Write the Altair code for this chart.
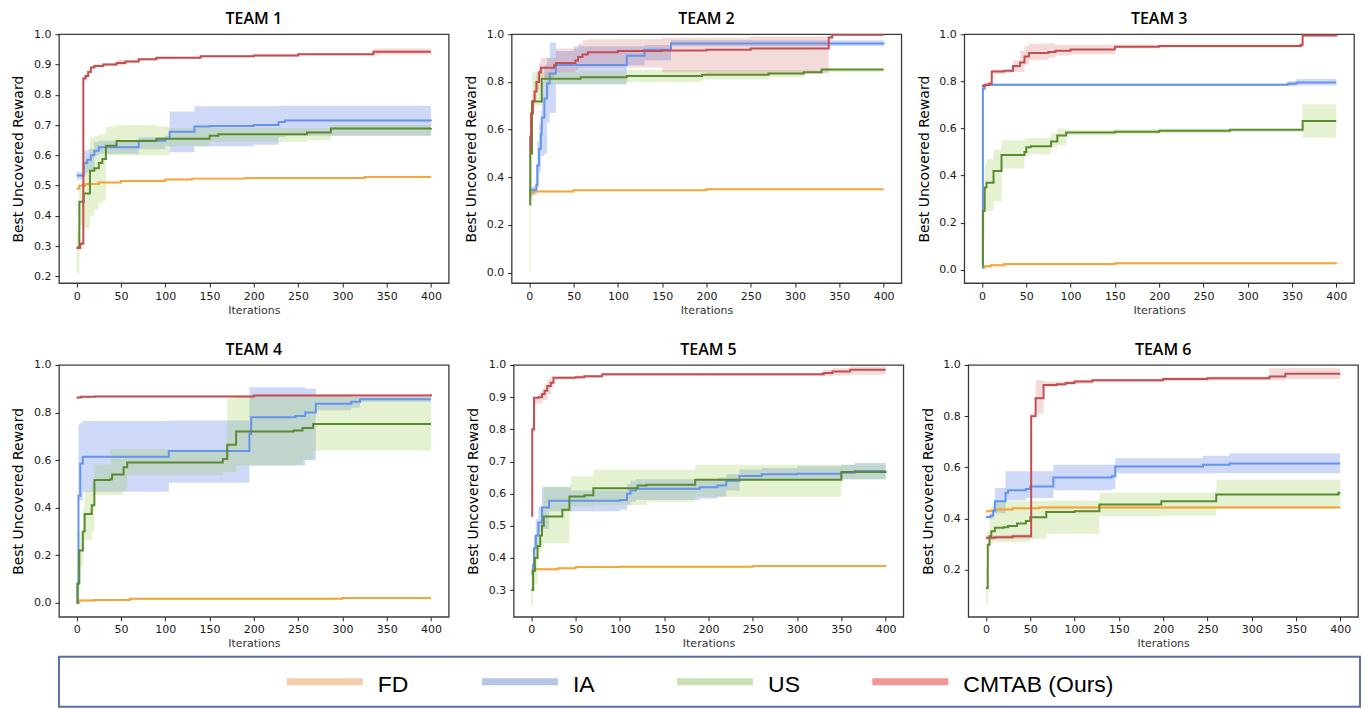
import altair as alt
import pandas as pd

SERIES = ["FD", "IA", "US", "CMTAB (Ours)"]
LINE_COLORS = ["#f5a53a", "#6494ec", "#5b8a30", "#c44e52"]
BAND_COLORS = ["#f5a53a", "#4a6fe0", "#9ccf55", "#c95a58"]
BAND_OPACITY = [0.27, 0.27, 0.27, 0.22]
LEGEND_COLORS = ["#ebb68a", "#97abda", "#b4d296", "#ec6a68"]
TEAMS = ["TEAM 1", "TEAM 2", "TEAM 3", "TEAM 4", "TEAM 5", "TEAM 6"]
X_TICKS = [0, 50, 100, 150, 200, 250, 300, 350, 400]
Y_DOMAINS = [[0.178, 1.0], [-0.044, 1.0], [-0.056, 1.0], [-0.059, 1.0], [0.217, 1.0], [0.015, 1.0]]
Y_TICKS = [
    [0.2, 0.3, 0.4, 0.5, 0.6, 0.7, 0.8, 0.9, 1.0],
    [0.0, 0.2, 0.4, 0.6, 0.8, 1.0],
    [0.0, 0.2, 0.4, 0.6, 0.8, 1.0],
    [0.0, 0.2, 0.4, 0.6, 0.8, 1.0],
    [0.3, 0.4, 0.5, 0.6, 0.7, 0.8, 0.9, 1.0],
    [0.2, 0.4, 0.6, 0.8, 1.0],
]

# (iteration, mean, lower, upper) step points
T1_FD = [(0, 0.49, 0.485, 0.495), (3, 0.50, 0.497, 0.503), (10, 0.505, 0.502, 0.508), (25, 0.51, 0.507, 0.513),
         (50, 0.515, 0.512, 0.518), (100, 0.52, 0.517, 0.523), (130, 0.523, 0.52, 0.526), (190, 0.525, 0.522, 0.528),
         (325, 0.528, 0.525, 0.531), (400, 0.528, 0.525, 0.531)]
T1_IA = [(0, 0.533, 0.52, 0.545), (8, 0.575, 0.54, 0.615), (12, 0.585, 0.545, 0.62), (16, 0.60, 0.55, 0.62),
         (20, 0.615, 0.60, 0.645), (25, 0.627, 0.605, 0.648), (70, 0.648, 0.62, 0.66), (100, 0.655, 0.63, 0.665),
         (105, 0.678, 0.61, 0.745), (133, 0.695, 0.63, 0.762), (150, 0.697, 0.63, 0.762), (200, 0.70, 0.635, 0.762),
         (228, 0.71, 0.66, 0.764), (235, 0.715, 0.665, 0.764), (400, 0.713, 0.665, 0.764)]
T1_US = [(0, 0.295, 0.21, 0.35), (3, 0.447, 0.37, 0.50), (8, 0.474, 0.36, 0.58), (15, 0.549, 0.40, 0.66),
         (20, 0.557, 0.42, 0.665), (25, 0.575, 0.44, 0.67), (29, 0.588, 0.45, 0.67), (33, 0.632, 0.60, 0.695),
         (45, 0.647, 0.60, 0.70), (90, 0.655, 0.60, 0.695), (105, 0.655, 0.63, 0.69), (150, 0.665, 0.645, 0.69),
         (160, 0.67, 0.645, 0.69), (260, 0.675, 0.65, 0.69), (287, 0.689, 0.665, 0.70), (400, 0.69, 0.665, 0.70)]
T1_CMTAB = [(0, 0.294, 0.29, 0.30), (4, 0.308, 0.30, 0.315), (7.5, 0.854, 0.845, 0.86), (10, 0.862, 0.855, 0.87),
            (13, 0.875, 0.87, 0.88), (16, 0.89, 0.885, 0.895), (20, 0.895, 0.89, 0.90), (30, 0.90, 0.895, 0.905),
            (45, 0.905, 0.898, 0.915), (55, 0.91, 0.905, 0.915), (70, 0.917, 0.913, 0.921), (90, 0.922, 0.918, 0.926),
            (140, 0.927, 0.923, 0.931), (200, 0.93, 0.926, 0.934), (250, 0.934, 0.93, 0.938),
            (335, 0.942, 0.932, 0.953), (400, 0.942, 0.932, 0.953)]

T2_FD = [(0, 0.335, 0.33, 0.34), (5, 0.34, 0.337, 0.343), (50, 0.345, 0.342, 0.348), (200, 0.35, 0.347, 0.353),
         (400, 0.35, 0.347, 0.353)]
T2_IA = [(0, 0.345, 0.32, 0.36), (5, 0.348, 0.325, 0.365), (8, 0.37, 0.33, 0.45), (9, 0.45, 0.36, 0.55),
         (11, 0.52, 0.42, 0.62), (13, 0.58, 0.49, 0.68), (14, 0.65, 0.49, 0.80), (17, 0.73, 0.50, 0.87),
         (20, 0.793, 0.63, 0.90), (23, 0.835, 0.67, 0.965), (30, 0.871, 0.79, 0.93), (50, 0.871, 0.79, 0.95),
         (110, 0.91, 0.87, 0.95), (130, 0.935, 0.89, 0.955), (160, 0.961, 0.95, 0.975), (400, 0.965, 0.95, 0.975)]
T2_US = [(0, 0.286, 0.0, 0.35), (1, 0.50, 0.30, 0.70), (3, 0.718, 0.70, 0.84), (14, 0.813, 0.79, 0.84),
         (58, 0.82, 0.79, 0.845), (110, 0.825, 0.80, 0.85), (195, 0.83, 0.81, 0.85), (270, 0.835, 0.82, 0.85),
         (310, 0.84, 0.835, 0.85), (330, 0.852, 0.84, 0.855), (400, 0.852, 0.84, 0.855)]
T2_CMTAB = [(0, 0.508, 0.48, 0.54), (1, 0.57, 0.50, 0.64), (2, 0.667, 0.60, 0.72), (4, 0.72, 0.68, 0.76),
            (6, 0.76, 0.72, 0.80), (8, 0.80, 0.76, 0.84), (11, 0.84, 0.80, 0.88), (13, 0.859, 0.82, 0.90),
            (28, 0.87, 0.83, 0.90), (30, 0.879, 0.84, 0.94), (52, 0.89, 0.85, 0.94), (55, 0.905, 0.86, 0.96),
            (60, 0.915, 0.86, 0.975), (66, 0.924, 0.86, 0.979), (100, 0.93, 0.86, 0.98), (150, 0.932, 0.84, 0.985),
            (200, 0.935, 0.835, 0.985), (250, 0.94, 0.835, 0.99), (338, 0.986, 0.98, 0.995),
            (342, 0.998, 0.995, 1.0), (400, 0.998, 0.995, 1.0)]

T3_FD = [(0, 0.01, 0.005, 0.015), (3, 0.015, 0.01, 0.02), (10, 0.02, 0.015, 0.025), (25, 0.025, 0.02, 0.03),
         (150, 0.028, 0.024, 0.032), (400, 0.03, 0.026, 0.034)]
T3_IA = [(0, 0.01, 0.005, 0.02), (1, 0.77, 0.76, 0.78), (3, 0.786, 0.78, 0.79), (340, 0.786, 0.78, 0.79),
         (345, 0.79, 0.78, 0.80), (355, 0.795, 0.782, 0.81), (400, 0.795, 0.782, 0.81)]
T3_US = [(0, 0.02, 0.0, 0.05), (1, 0.25, 0.15, 0.35), (3, 0.35, 0.25, 0.45), (5, 0.37, 0.25, 0.47),
         (13, 0.42, 0.29, 0.51), (22, 0.487, 0.43, 0.55), (48, 0.50, 0.49, 0.555), (50, 0.52, 0.49, 0.56),
         (55, 0.525, 0.49, 0.56), (78, 0.545, 0.52, 0.58), (85, 0.57, 0.53, 0.60), (95, 0.583, 0.57, 0.595),
         (150, 0.586, 0.575, 0.597), (200, 0.59, 0.58, 0.60), (280, 0.595, 0.585, 0.60), (362, 0.632, 0.562, 0.703),
         (400, 0.632, 0.562, 0.703)]
T3_CMTAB = [(0, 0.78, 0.77, 0.79), (3, 0.785, 0.775, 0.795), (8, 0.79, 0.78, 0.80), (11, 0.842, 0.83, 0.85),
            (25, 0.845, 0.835, 0.85), (35, 0.865, 0.84, 0.89), (43, 0.88, 0.84, 0.93), (48, 0.905, 0.87, 0.95),
            (53, 0.92, 0.89, 0.96), (75, 0.925, 0.90, 0.962), (83, 0.93, 0.91, 0.955), (100, 0.935, 0.915, 0.955),
            (150, 0.947, 0.94, 0.955), (200, 0.95, 0.944, 0.956), (360, 0.955, 0.948, 0.962),
            (362, 0.995, 0.99, 1.0), (400, 0.998, 0.99, 1.0)]

T4_FD = [(0, 0.0, -0.005, 0.005), (3, 0.01, 0.005, 0.015), (20, 0.012, 0.008, 0.016), (60, 0.017, 0.013, 0.021),
         (300, 0.02, 0.016, 0.024), (400, 0.02, 0.016, 0.024)]
T4_IA = [(0, 0.0, 0.0, 0.01), (1, 0.08, 0.0, 0.10), (2, 0.45, 0.43, 0.75), (4, 0.586, 0.43, 0.755),
         (7, 0.614, 0.467, 0.764), (104, 0.638, 0.505, 0.767), (195, 0.71, 0.577, 0.906), (197, 0.78, 0.577, 0.906),
         (247, 0.785, 0.577, 0.906), (258, 0.80, 0.60, 0.90), (270, 0.837, 0.81, 0.87), (310, 0.845, 0.82, 0.865),
         (320, 0.856, 0.845, 0.865), (400, 0.856, 0.845, 0.865)]
T4_US = [(0, 0.0, 0.0, 0.02), (1, 0.081, 0.0, 0.15), (3, 0.22, 0.15, 0.30), (7, 0.30, 0.265, 0.40),
         (9, 0.373, 0.265, 0.47), (17, 0.41, 0.30, 0.50), (20, 0.516, 0.453, 0.58), (38, 0.52, 0.453, 0.645),
         (40, 0.54, 0.453, 0.645), (53, 0.57, 0.47, 0.645), (57, 0.59, 0.537, 0.645), (165, 0.605, 0.55, 0.645),
         (170, 0.665, 0.55, 0.86), (180, 0.72, 0.577, 0.865), (245, 0.725, 0.58, 0.865), (255, 0.735, 0.60, 0.865),
         (267, 0.752, 0.64, 0.865), (400, 0.752, 0.64, 0.865)]
T4_CMTAB = [(0, 0.863, 0.858, 0.868), (5, 0.866, 0.861, 0.871), (20, 0.868, 0.863, 0.873),
            (200, 0.872, 0.867, 0.877), (400, 0.877, 0.872, 0.882)]

T5_FD = [(0, 0.36, 0.357, 0.363), (3, 0.365, 0.362, 0.368), (30, 0.368, 0.365, 0.371), (50, 0.372, 0.369, 0.375),
         (100, 0.373, 0.37, 0.376), (250, 0.375, 0.372, 0.378), (400, 0.376, 0.373, 0.379)]
T5_IA = [(0, 0.352, 0.34, 0.36), (2, 0.38, 0.36, 0.42), (3, 0.43, 0.40, 0.47), (5, 0.47, 0.44, 0.52),
         (8, 0.51, 0.48, 0.56), (12, 0.557, 0.49, 0.62), (20, 0.578, 0.545, 0.62), (45, 0.578, 0.545, 0.61),
         (100, 0.58, 0.55, 0.61), (108, 0.60, 0.565, 0.63), (112, 0.61, 0.575, 0.64), (118, 0.615, 0.58, 0.645),
         (190, 0.62, 0.585, 0.645), (210, 0.625, 0.59, 0.65), (220, 0.64, 0.61, 0.66), (235, 0.655, 0.64, 0.675),
         (260, 0.66, 0.643, 0.68), (300, 0.662, 0.643, 0.685), (350, 0.665, 0.645, 0.69), (365, 0.67, 0.645, 0.695),
         (400, 0.67, 0.645, 0.695)]
T5_US = [(0, 0.30, 0.25, 0.34), (2, 0.36, 0.30, 0.40), (4, 0.40, 0.32, 0.45), (7, 0.437, 0.42, 0.50),
         (10, 0.47, 0.42, 0.53), (12, 0.50, 0.43, 0.56), (14, 0.529, 0.446, 0.622), (35, 0.55, 0.446, 0.622),
         (43, 0.591, 0.54, 0.63), (45, 0.591, 0.56, 0.654), (60, 0.595, 0.56, 0.654), (70, 0.617, 0.565, 0.674),
         (120, 0.625, 0.565, 0.674), (130, 0.628, 0.575, 0.674), (185, 0.643, 0.59, 0.69), (350, 0.667, 0.645, 0.69),
         (400, 0.67, 0.645, 0.69)]
T5_CMTAB = [(0, 0.531, 0.52, 0.54), (1, 0.80, 0.79, 0.81), (3, 0.898, 0.88, 0.90), (8, 0.90, 0.88, 0.91),
            (12, 0.91, 0.89, 0.925), (15, 0.92, 0.89, 0.94), (18, 0.935, 0.91, 0.955), (22, 0.945, 0.93, 0.965),
            (25, 0.96, 0.955, 0.965), (50, 0.962, 0.957, 0.967), (60, 0.965, 0.96, 0.97), (80, 0.971, 0.966, 0.975),
            (330, 0.975, 0.965, 0.985), (340, 0.98, 0.967, 0.99), (360, 0.985, 0.97, 0.995), (400, 0.985, 0.97, 0.995)]

T6_FD = [(0, 0.428, 0.423, 0.433), (5, 0.43, 0.425, 0.435), (10, 0.435, 0.43, 0.44), (30, 0.44, 0.435, 0.445),
         (60, 0.443, 0.438, 0.448), (400, 0.443, 0.438, 0.448)]
T6_IA = [(0, 0.405, 0.40, 0.41), (5, 0.41, 0.40, 0.42), (8, 0.43, 0.41, 0.44), (10, 0.467, 0.42, 0.519),
         (22, 0.50, 0.47, 0.584), (25, 0.51, 0.47, 0.584), (45, 0.515, 0.48, 0.584), (50, 0.525, 0.48, 0.584),
         (76, 0.56, 0.51, 0.61), (142, 0.565, 0.515, 0.61), (146, 0.603, 0.577, 0.635), (245, 0.61, 0.577, 0.645),
         (275, 0.615, 0.577, 0.655), (400, 0.615, 0.577, 0.655)]
T6_US = [(0, 0.128, 0.06, 0.20), (2, 0.297, 0.25, 0.35), (4, 0.33, 0.30, 0.42), (6, 0.35, 0.305, 0.45),
         (10, 0.363, 0.308, 0.467), (20, 0.365, 0.308, 0.467), (25, 0.37, 0.308, 0.467), (35, 0.38, 0.308, 0.467),
         (45, 0.39, 0.31, 0.467), (50, 0.404, 0.32, 0.467), (68, 0.425, 0.34, 0.47), (100, 0.428, 0.34, 0.47),
         (128, 0.454, 0.408, 0.50), (198, 0.467, 0.41, 0.50), (260, 0.493, 0.44, 0.551), (398, 0.50, 0.44, 0.551),
         (400, 0.50, 0.44, 0.551)]
T6_CMTAB = [(0, 0.324, 0.315, 0.333), (10, 0.326, 0.318, 0.335), (30, 0.33, 0.32, 0.338), (51, 0.80, 0.79, 0.81),
            (56, 0.87, 0.81, 0.94), (65, 0.922, 0.915, 0.935), (80, 0.925, 0.918, 0.935), (90, 0.93, 0.922, 0.938),
            (100, 0.935, 0.927, 0.942), (120, 0.94, 0.933, 0.946), (200, 0.945, 0.937, 0.952),
            (250, 0.948, 0.94, 0.955), (320, 0.955, 0.94, 0.987), (338, 0.966, 0.945, 0.987),
            (400, 0.966, 0.945, 0.987)]

TEAM_DATA = [
    [T1_FD, T1_IA, T1_US, T1_CMTAB],
    [T2_FD, T2_IA, T2_US, T2_CMTAB],
    [T3_FD, T3_IA, T3_US, T3_CMTAB],
    [T4_FD, T4_IA, T4_US, T4_CMTAB],
    [T5_FD, T5_IA, T5_US, T5_CMTAB],
    [T6_FD, T6_IA, T6_US, T6_CMTAB],
]

TICK_FONT = "DejaVu Sans"


def panel(i, width, height):
    rows = []
    for s, pts in zip(SERIES, TEAM_DATA[i]):
        for x, m, lo, hi in pts:
            rows.append({"series": s, "x": x, "mean": m, "lo": lo, "hi": hi})
    df = pd.DataFrame(rows)
    xs = alt.Scale(domain=[-20, 420], nice=False, zero=False)
    ys = alt.Scale(domain=Y_DOMAINS[i], nice=False, zero=False)
    xaxis = alt.Axis(values=X_TICKS, title="Iterations", format="d", grid=False, domain=False,
                     labelFont=TICK_FONT, titleFont=TICK_FONT, labelFontSize=11, titleFontSize=11,
                     titleFontWeight="normal", labelColor="#1a1a1a", titleColor="#333333",
                     tickColor="#222222", tickSize=4, labelPadding=3, titlePadding=3,
                     labelFlush=False, labelOverlap=False)
    yaxis = alt.Axis(values=Y_TICKS[i], title="Best Uncovered Reward", format=".1f", grid=False, domain=False,
                     labelFont=TICK_FONT, titleFont=TICK_FONT, labelFontSize=11, titleFontSize=14,
                     titleFontWeight="normal", labelColor="#1a1a1a", titleColor="#000000",
                     tickColor="#222222", tickSize=4, labelPadding=4, titlePadding=7,
                     minExtent=26, maxExtent=26, labelOverlap=False)
    base = alt.Chart(df)
    layers = []
    for k, s in enumerate(SERIES):
        layers.append(
            base.transform_filter(alt.datum.series == s)
            .mark_area(interpolate="step-after", opacity=BAND_OPACITY[k], clip=True, color=BAND_COLORS[k])
            .encode(x=alt.X("x:Q", scale=xs, axis=xaxis), y=alt.Y("lo:Q", scale=ys, axis=yaxis), y2="hi:Q")
        )
    for k, s in enumerate(SERIES):
        layers.append(
            base.transform_filter(alt.datum.series == s)
            .mark_line(interpolate="step-after", strokeWidth=2, clip=True, color=LINE_COLORS[k])
            .encode(x=alt.X("x:Q", scale=xs, axis=xaxis), y=alt.Y("mean:Q", scale=ys, axis=yaxis))
        )
    return alt.layer(*layers).properties(
        width=width, height=height,
        title=alt.Title(TEAMS[i], fontSize=16, font="Open Sans", fontWeight=600, color="#000000", offset=1),
    )


row1 = alt.hconcat(panel(0, 390, 249), panel(1, 390, 249), panel(2, 390, 249), spacing=14)
row2 = alt.hconcat(panel(3, 390, 252), panel(4, 390, 252), panel(5, 390, 252), spacing=16)
grid = alt.vconcat(row1, row2, spacing=25)

legend_df = pd.DataFrame({"name": SERIES, "swatch": LEGEND_COLORS, "row": ["legend"] * len(SERIES)})
lx = alt.X("name:N", scale=alt.Scale(type="point", domain=SERIES, range=[266, 852], padding=0), axis=None)
ly = alt.Y("row:N", scale=alt.Scale(type="point"),
           axis=alt.Axis(labels=False, ticks=False, domain=False, title=None, minExtent=50, maxExtent=50))
lbase = alt.Chart(legend_df)
swatches = lbase.mark_tick(orient="horizontal", size=76, thickness=7).encode(
    x=lx, y=alt.value(25), color=alt.Color("swatch:N", scale=None, legend=None))
labels = lbase.mark_text(align="left", baseline="middle", dx=53, dy=3, fontSize=23,
                         font="Liberation Sans", color="#000000").encode(
    x=lx, y=ly, text="name:N")
legend_box = alt.layer(swatches, labels).properties(
    width=1302, height=50, view=alt.ViewBackground(stroke="#5a6ea6", strokeWidth=2))

chart = alt.vconcat(grid, legend_box, spacing=6).properties(
    padding={"left": 0, "top": 2, "right": 0, "bottom": 0}, background="white"
).configure_view(stroke="#3c3c3c", strokeWidth=1.3)

chart.save("out.html", embed_options={"renderer": "svg", "actions": False})
